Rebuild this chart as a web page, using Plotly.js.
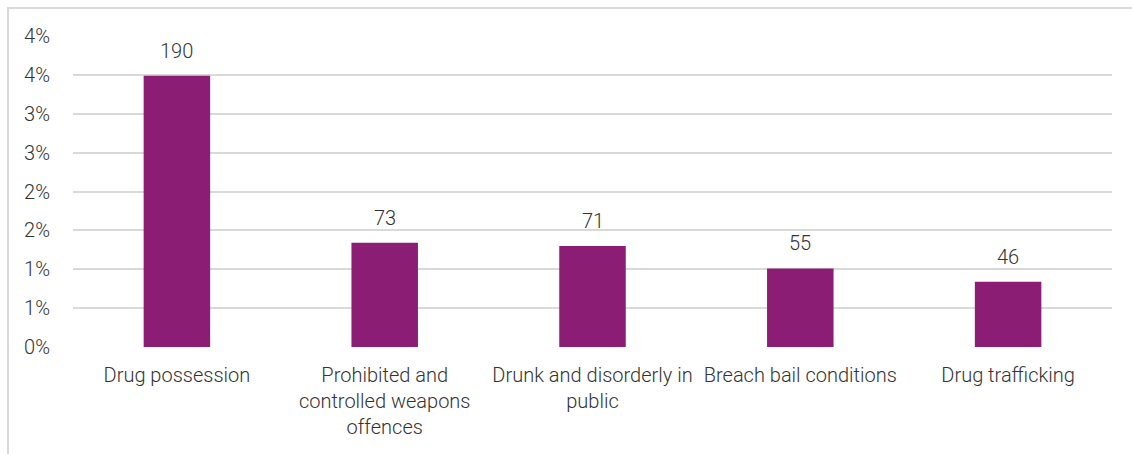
<!DOCTYPE html>
<html>
<head>
<meta charset="utf-8">
<script src="https://cdn.plot.ly/plotly-3.0.1.min.js"></script>
<style>
  html, body { margin: 0; padding: 0; background: #fff; }
  #frame { position: absolute; left: 7px; top: 7px; width: 1125px; height: 447px;
           border-left: 2px solid #d9d9d9; border-top: 2px solid #d9d9d9; box-sizing: border-box; }
  #chart { position: absolute; left: 0; top: 0; width: 1132px; height: 454px; }
</style>
</head>
<body>
<div id="frame"></div>
<div id="chart"></div>
<script>
// Offence categories (line breaks as shown under the axis)
const categories = [
  "Drug possession",
  "Prohibited and<br>controlled weapons<br>offences",
  "Drunk and disorderly in<br>public",
  "Breach bail conditions",
  "Drug trafficking"
];
// Number of cases per offence (bar labels)
const counts = [190, 73, 71, 55, 46];
// Share of all cases, in percent (bar heights)
const shares = [3.49, 1.34, 1.30, 1.01, 0.84];
// Y axis ticks (whole-percent rounding)
const tickVals = [0, 0.5, 1, 1.5, 2, 2.5, 3, 3.5, 4];
const tickText = ["0%", "1%", "1%", "2%", "2%", "3%", "3%", "4%", "4%"];

const FONT = "Roboto, 'Noto Sans', sans-serif";
const TEXT = "#333333";
const SIZE = 20;

const trace = {
  type: "bar",
  x: categories,
  y: shares,
  marker: { color: "#8b1e74" },
  hoverinfo: "skip"
};

const annotations = categories.map((c, i) => ({
  x: c, y: shares[i], xref: "x", yref: "y",
  text: String(counts[i]),
  showarrow: false, yanchor: "bottom", yshift: 11,
  font: { family: FONT, size: SIZE, color: TEXT, weight: 300 }
}));

const layout = {
  width: 1132, height: 454,
  margin: { l: 73, r: 20, t: 36, b: 107 },
  paper_bgcolor: "rgba(0,0,0,0)",
  plot_bgcolor: "rgba(0,0,0,0)",
  showlegend: false,
  bargap: 0.68,
  font: { family: FONT, size: SIZE, color: TEXT, weight: 300 },
  xaxis: {
    type: "category",
    showgrid: false, zeroline: false, showline: false,
    ticks: "", ticklabelstandoff: 14,
    tickfont: { family: FONT, size: SIZE, color: TEXT, weight: 300 }
  },
  yaxis: {
    range: [0, 4],
    tickvals: tickVals, ticktext: tickText,
    showgrid: true, gridcolor: "#d9d9d9", gridwidth: 2,
    zeroline: false, showline: false, ticks: "",
    ticklabelstandoff: 22,
    tickfont: { family: FONT, size: SIZE, color: TEXT, weight: 300 }
  },
  annotations: annotations
};

Plotly.newPlot("chart", [trace], layout, { staticPlot: true, displayModeBar: false });
</script>
</body>
</html>
